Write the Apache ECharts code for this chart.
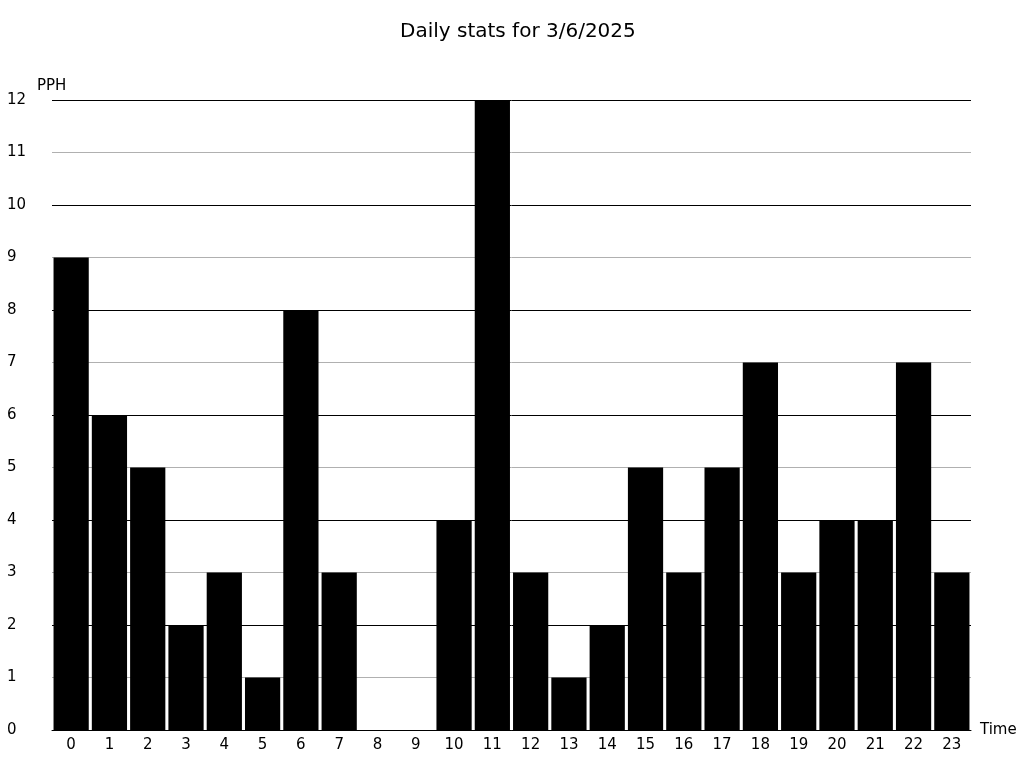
<!DOCTYPE html>
<html><head><meta charset="utf-8">
<script src="https://cdn.jsdelivr.net/npm/echarts@6/dist/echarts.min.js"></script>
<style>html,body{margin:0;padding:0;background:#fff}#c{width:1024px;height:768px}</style>
</head><body><div id="c"></div>
<script>
const categories = ['0','1','2','3','4','5','6','7','8','9','10','11','12','13','14','15','16','17','18','19','20','21','22','23'];
const values = [9,6,5,2,3,1,8,3,0,0,4,12,3,1,2,5,3,5,7,3,4,4,7,3];
const chart = echarts.init(document.getElementById('c'));
const font = 'DejaVu Sans';
chart.setOption({
  animation: false,
  textStyle: {fontFamily: font},
  title: {text: 'Daily stats for 3/6/2025', left: 395, top: 17,
    textStyle: {fontFamily: font, fontSize: 20, fontWeight: 'normal', color: '#000'}},
  grid: {left: 52, right: 53, top: 100, bottom: 38},
  xAxis: {type: 'category', data: categories, name: 'Time', nameGap: 9,
    nameTextStyle: {color: '#000', fontSize: 15, fontFamily: font, verticalAlign: 'middle', padding: [2, 0, 0, 0]},
    axisLine: {lineStyle: {color: '#000', width: 1}}, axisTick: {show: false},
    axisLabel: {color: '#000', fontSize: 15, fontFamily: font, margin: 8}},
  yAxis: {type: 'value', min: 0, max: 12, interval: 1, name: 'PPH', nameGap: 8,
    nameTextStyle: {color: '#000', fontSize: 15, fontFamily: font, align: 'left', padding: [0, 0, -2, -15]},
    axisLine: {show: false}, axisTick: {show: false},
    axisLabel: {color: '#000', fontSize: 15, fontFamily: font, align: 'left', margin: 45, padding: [3, 0, 0, 0]},
    splitLine: {lineStyle: {color: ['#000', '#b0b0b0'], width: 1}}},
  series: [{type: 'bar', data: values, barCategoryGap: '8%',
    itemStyle: {color: '#000'}}]
});
</script></body></html>
